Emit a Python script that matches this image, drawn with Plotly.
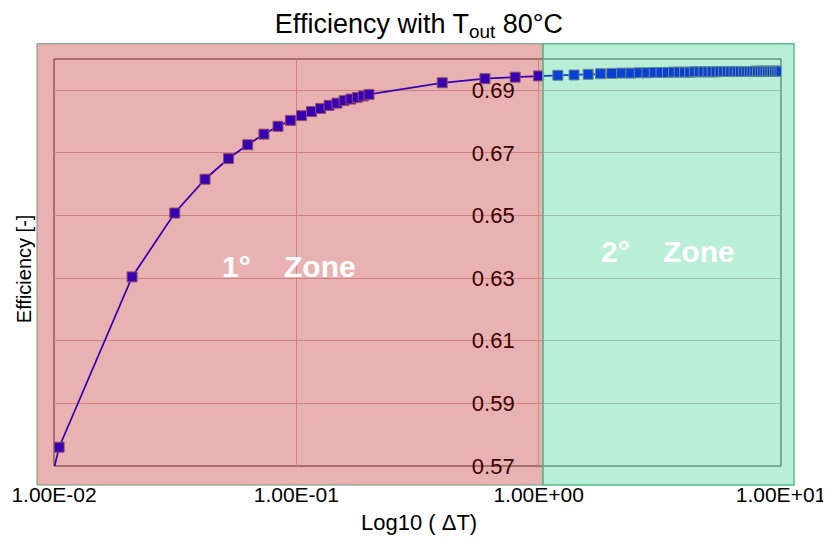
import plotly.graph_objects as go

# ---- data ----
zone1_dT = [0.0098, 0.0105, 0.021, 0.0315, 0.042, 0.0525, 0.063, 0.0735, 0.084, 0.0945,
            0.105, 0.1155, 0.126, 0.1365, 0.147, 0.1575, 0.168, 0.1785, 0.189, 0.1995,
            0.4, 0.6, 0.8, 1.0]
zone1_eff = [0.5663, 0.5760, 0.6304, 0.6508, 0.6616, 0.6682, 0.6726, 0.6760, 0.6785, 0.6804,
             0.6819, 0.6832, 0.6842, 0.6852, 0.6859, 0.6867, 0.6872, 0.6877, 0.6882, 0.6887,
             0.6924, 0.6937, 0.6942, 0.6946]
zone2_dT = [1.2, 1.4, 1.6, 1.8, 2.0, 2.2, 2.4, 2.6, 2.8, 3.0,
            3.2, 3.4, 3.6, 3.8, 4.0, 4.2, 4.4, 4.6, 4.8, 5.0,
            5.2, 5.4, 5.6, 5.8, 6.0, 6.2, 6.4, 6.6, 6.8, 7.0,
            7.2, 7.4, 7.6, 7.8, 8.0, 8.2, 8.4, 8.6, 8.8, 9.0,
            9.2, 9.4, 9.6, 9.8, 10.0]
zone2_eff = [0.6948, 0.6949, 0.6951, 0.6953, 0.6954, 0.6955, 0.6955, 0.6956, 0.6956, 0.6957,
             0.6957, 0.6957, 0.6958, 0.6958, 0.6958, 0.6958, 0.6959, 0.6959, 0.6959, 0.6959,
             0.6959, 0.6959, 0.6960, 0.6960, 0.6960, 0.6960, 0.6960, 0.6960, 0.6960, 0.6960,
             0.6960, 0.6960, 0.6960, 0.6961, 0.6961, 0.6961, 0.6961, 0.6961, 0.6961, 0.6961,
             0.6961, 0.6961, 0.6961, 0.6961, 0.6961]

x_tickvals = [0.01, 0.1, 1, 10]
x_ticktext = ["1.00E-02", "1.00E-01", "1.00E+00", "1.00E+01"]
y_tickvals = [0.57, 0.59, 0.61, 0.63, 0.65, 0.67, 0.69]
y_ticktext = ["0.57", "0.59", "0.61", "0.63", "0.65", "0.67", "0.69"]

title_text = "Efficiency with T<sub>out</sub> 80°C"
x_title = "Log10 ( ΔT)"
y_title = "Efficiency [-]"
zone_labels = ["1°\u00a0\u00a0\u00a0\u00a0Zone", "2°\u00a0\u00a0\u00a0\u00a0Zone"]

FONT = "Liberation Sans, Arial, sans-serif"

x_all = zone1_dT + zone2_dT
y_all = zone1_eff + zone2_eff

fig = go.Figure()
fig.add_trace(go.Scatter(
    x=x_all, y=y_all, mode="lines+markers",
    line=dict(color="rgb(0,0,255)", width=1.75),
    marker=dict(symbol="square", size=10, color="rgb(0,0,255)",
                line=dict(color="rgb(130,110,150)", width=1)),
    showlegend=False, cliponaxis=True,
))

shapes = [
    # plot-area border
    dict(type="rect", xref="paper", yref="paper", x0=0, x1=1, y0=0, y1=1,
         line=dict(color="rgb(70,60,60)", width=1), fillcolor="rgba(0,0,0,0)", layer="below"),
    # zone overlays
    dict(type="rect", xref="paper", yref="paper", x0=-0.0234, x1=0.6726, y0=-0.0467, y1=1.0376,
         fillcolor="rgba(182,0,0,0.30)", line=dict(color="rgb(110,150,120)", width=1), layer="above"),
    dict(type="rect", xref="paper", yref="paper", x0=0.6726, x1=1.0179, y0=-0.0467, y1=1.0376,
         fillcolor="rgba(32,204,124,0.314)", line=dict(color="rgb(85,190,140)", width=1.5), layer="above"),
]

annotations = [
    dict(text=zone_labels[0], xref="paper", yref="paper", x=0.323, y=0.491, showarrow=False,
         font=dict(family=FONT, size=30, color="white", weight="bold"), xanchor="center", yanchor="middle"),
    dict(text=zone_labels[1], xref="paper", yref="paper", x=0.845, y=0.526, showarrow=False,
         font=dict(family=FONT, size=30, color="white", weight="bold"), xanchor="center", yanchor="middle"),
    dict(text=y_title, xref="paper", yref="paper", x=-0.0413, y=0.486, showarrow=False, textangle=-90,
         font=dict(family=FONT, size=20, color="black"), xanchor="center", yanchor="middle"),
    dict(text=x_title, xref="paper", yref="paper", x=0.502, y=-0.1376, showarrow=False,
         font=dict(family=FONT, size=22, color="black"), xanchor="center", yanchor="middle"),
]

fig.update_layout(
    width=823, height=530,
    margin=dict(l=46, r=50, t=51, b=72, pad=0, autoexpand=False),
    paper_bgcolor="white", plot_bgcolor="white",
    font=dict(family=FONT, color="black"),
    title=dict(text=title_text, x=0.502, xref="paper", xanchor="center",
               y=0.971, yref="container", yanchor="middle",
               font=dict(family=FONT, size=27, color="black")),
    shapes=shapes, annotations=annotations,
    xaxis=dict(type="log", range=[-2, 1], tickvals=x_tickvals, ticktext=x_ticktext,
               automargin=False,
               showgrid=True, gridcolor="rgb(215,185,185)", gridwidth=1,
               showline=False, zeroline=False, ticks="", ticklabelstandoff=14,
               tickfont=dict(family=FONT, size=21, color="black")),
    yaxis=dict(range=[0.57, 0.70], tickvals=y_tickvals, ticktext=y_ticktext,
               anchor="free", position=2/3, automargin=False,
               showgrid=True, gridcolor="rgb(215,185,185)", gridwidth=1,
               showline=False, zeroline=False, ticks="", ticklabelstandoff=24,
               tickfont=dict(family=FONT, size=22, color="black")),
)

fig.write_html("out.html")
